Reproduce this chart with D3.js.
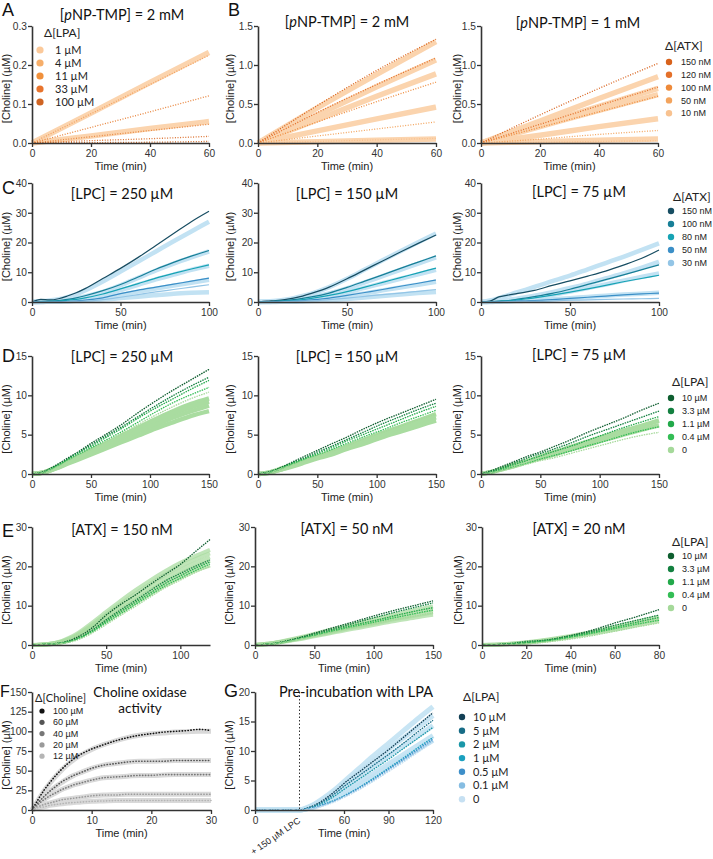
<!DOCTYPE html>
<html><head><meta charset="utf-8">
<script src="https://cdn.jsdelivr.net/npm/d3@7"></script>
<style>body{margin:0;background:#fff}svg{display:block}</style>
</head><body>
<svg id="c" width="713" height="859"></svg>
<script>
// ---------------- DATA ----------------
// Panel A (x: min, y: µM)
const tA = [0, 20, 40, 60];
const fitA = [[0,0.077,0.155,0.232],[0,0.018,0.037,0.055]];
const dataA = [[0,0.075,0.150,0.225],[0,0.040,0.080,0.121],[0,0.016,0.032,0.048],[0,0.006,0.011,0.017],[0,0.001,0.002,0.004]];
const legendA = ["1 µM","4 µM","11 µM","33  µM","100 µM"];
// Panel B
const tB = [0, 20, 40, 60];
const fitB1 = [[0,0.45,0.88,1.30],[0,0.36,0.72,1.065],[0,0.30,0.60,0.886],[0,0.155,0.31,0.46],[0,0.017,0.034,0.05]];
const dataB1 = [[0,0.48,0.93,1.33],[0,0.39,0.75,1.09],[0,0.27,0.53,0.78],[0,0.09,0.18,0.27],[0,0.02,0.04,0.06]];
const fitB2 = [[0,0.28,0.57,0.85],[0,0.24,0.47,0.70],[0,0.21,0.42,0.62],[0,0.10,0.21,0.31],[0,0.017,0.034,0.05]];
const dataB2 = [[0,0.36,0.70,1.02],[0,0.24,0.48,0.716],[0,0.20,0.40,0.60],[0,0.05,0.11,0.16],[0,0.01,0.02,0.03]];
const legendATX1 = ["150 nM","120 nM","100 nM","50 nM","10 nM"];
// Panel C
const tC = [0,5,10,15,20,25,30,40,50,60,70,80,90,100];
const fitC1 = [[0,0.2,0.5,0.9,1.6,2.6,3.9,6.9,10.2,13.6,17.0,20.4,23.7,27.0],
               [0,0.1,0.3,0.5,0.9,1.3,1.9,3.4,5.6,8.1,10.6,12.9,15.0,17.0],
               [0,0.1,0.2,0.4,0.6,0.9,1.3,2.4,4.0,5.8,7.6,9.2,10.8,12.2],
               [0,0,0.1,0.2,0.3,0.5,0.7,1.4,2.4,3.5,4.5,5.5,6.5,7.5],
               [0,0,0.1,0.1,0.2,0.3,0.4,0.8,1.3,1.8,2.3,2.8,3.1,3.3]];
const dataC1 = [[0,0.9,0.7,1.1,2.0,3.1,4.5,7.9,11.3,15.0,19.0,23.0,27.0,30.5],
                [0,0.2,0.3,0.5,0.9,1.4,2.1,3.8,5.9,8.4,11.0,13.3,15.4,17.3],
                [0,0.1,0.2,0.3,0.6,0.9,1.4,2.7,4.4,6.2,8.0,9.6,11.1,12.5],
                [0,0,0,0.1,0.2,0.4,0.6,1.4,2.8,4.0,5.0,6.0,7.0,8.0],
                [0,0,0,0,0.1,0.2,0.3,0.8,1.6,2.5,3.4,4.2,5.0,5.8]];
const fitC2 = [[0,0.2,0.4,0.8,1.3,2.0,2.8,5.0,7.8,10.9,14.0,17.1,20.1,23.0],
               [0,0.1,0.2,0.4,0.7,1.1,1.6,2.9,4.6,6.6,8.7,10.8,12.9,15.0],
               [0,0.1,0.1,0.3,0.5,0.8,1.1,2.0,3.3,4.8,6.3,7.8,9.3,10.8],
               [0,0,0.1,0.2,0.3,0.4,0.6,1.2,2.0,2.9,3.9,4.9,5.8,6.8],
               [0,0,0,0.1,0.1,0.2,0.3,0.6,1.0,1.5,2.0,2.5,3.0,3.4]];
const dataC2 = [[0,0.3,0.5,0.8,1.3,2.0,2.9,5.0,7.8,10.8,13.8,16.8,19.7,22.5],
                [0,0.1,0.3,0.5,0.8,1.2,1.7,3.0,4.9,7.0,9.1,11.3,13.4,15.5],
                [0,0.1,0.2,0.3,0.5,0.8,1.2,2.2,3.5,5.0,6.6,8.2,9.8,11.4],
                [0,0,0.1,0.2,0.3,0.5,0.7,1.3,2.2,3.2,4.2,5.3,6.3,7.4],
                [0,0,0,0.1,0.2,0.3,0.4,0.8,1.3,1.9,2.5,3.0,3.6,4.2]];
const fitC3 = [[0,0.5,1.3,2.2,3.2,4.1,5.1,7.0,8.9,11.0,13.1,15.2,17.4,19.7],
               [0,0.1,0.4,0.7,1.1,1.6,2.1,3.3,4.7,6.2,7.9,9.6,11.5,13.5],
               [0,0.1,0.3,0.5,0.8,1.1,1.5,2.4,3.5,4.7,5.9,7.2,8.4,9.6],
               [0,0,0.1,0.2,0.3,0.4,0.5,0.9,1.3,1.7,2.1,2.5,2.8,3.1]];
const dataC3 = [[0,0.3,1.7,2.3,2.8,3.3,3.9,5.6,7.1,8.7,10.4,12.4,14.6,17.5],
                [0,0.1,0.3,0.5,0.9,1.3,1.8,2.9,4.3,5.9,7.5,9.1,10.8,12.5],
                [0,0.1,0.2,0.4,0.7,1.0,1.4,2.3,3.3,4.4,5.6,6.8,7.9,9.0],
                [0,0,0.1,0.2,0.3,0.4,0.5,0.8,1.2,1.6,2.0,2.4,2.7,3.0],
                [0,0,0,0.1,0.1,0.2,0.2,0.4,0.6,0.7,0.9,1.0,1.1,1.2]];
const legendATX2 = ["150 nM","100 nM","80 nM","50 nM","30 nM"];
// Panel D
const tD = [0,10,20,30,40,50,60,75,90,105,120,135,150];
const fitD1 = [[0,0.2,0.8,1.5,2.3,3.0,3.7,4.8,5.9,7.0,8.0,8.9,9.6],
               [0,0.2,0.8,1.5,2.2,2.9,3.6,4.6,5.7,6.7,7.7,8.5,9.2],
               [0,0.2,0.7,1.4,2.1,2.7,3.4,4.4,5.4,6.3,7.2,8.0,8.7],
               [0,0.2,0.7,1.3,1.9,2.5,3.1,4.0,4.9,5.8,6.6,7.4,8.0]];
const dataD1 = [[0,0.3,1.1,2.0,2.9,3.9,4.8,6.2,7.8,9.3,10.7,12.0,13.3],
                [0,0.3,1.0,1.9,2.8,3.7,4.6,5.9,7.3,8.7,10.0,11.2,12.3],
                [0,0.2,0.9,1.8,2.7,3.5,4.4,5.7,7.1,8.4,9.6,10.8,11.9],
                [0,0.2,0.9,1.7,2.5,3.3,4.1,5.3,6.6,7.9,9.1,10.1,11.0],
                [0,0.2,0.8,1.6,2.4,3.1,3.9,5.1,6.3,7.5,8.6,9.6,10.4]];
const fitD2 = [[0,0.2,0.7,1.2,1.7,2.2,2.7,3.5,4.4,5.2,6.0,6.8,7.6],
               [0,0.2,0.6,1.1,1.6,2.1,2.6,3.4,4.2,4.9,5.7,6.5,7.2],
               [0,0.2,0.6,1.0,1.5,2.0,2.4,3.2,3.9,4.7,5.4,6.1,6.8]];
const dataD2 = [[0,0.3,0.9,1.6,2.3,3.0,3.7,4.7,5.8,6.8,7.7,8.6,9.5],
                [0,0.3,0.8,1.5,2.1,2.8,3.4,4.4,5.4,6.4,7.3,8.2,9.0],
                [0,0.2,0.8,1.4,2.0,2.6,3.2,4.2,5.1,6.0,6.9,7.8,8.6],
                [0,0.2,0.7,1.3,1.9,2.4,3.0,3.9,4.8,5.6,6.5,7.3,8.1],
                [0,0.2,0.7,1.2,1.8,2.3,2.8,3.6,4.5,5.3,6.1,6.9,7.6]];
const fitD3 = [[0,0.3,0.8,1.3,1.7,2.2,2.7,3.4,4.1,4.8,5.5,6.1,6.8],
               [0,0.3,0.7,1.1,1.6,2.0,2.4,3.1,3.7,4.4,5.0,5.6,6.2]];
const dataD3 = [[0,0.5,1.1,1.7,2.3,2.8,3.4,4.3,5.3,6.2,7.1,8.1,9.0],
                [0,0.4,0.9,1.5,2.1,2.6,3.1,3.9,4.8,5.6,6.4,7.2,8.0],
                [0,0.3,0.8,1.3,1.8,2.3,2.8,3.5,4.3,5.1,5.9,6.6,7.3],
                [0,0.2,0.6,1.0,1.4,1.9,2.3,2.9,3.6,4.2,4.9,5.5,6.0],
                [0,0.2,0.5,0.9,1.3,1.7,2.0,2.6,3.2,3.8,4.4,4.9,5.3]];
const legendLPA = ["10 µM","3.3 µM","1.1 µM","0.4 µM","0"];
// Panel E
const tE1 = [0,10,20,25,30,40,50,60,70,80,90,100,110,120];
const fitE1 = [[0,0.2,1.0,1.8,2.8,5.5,8.4,11.3,14.0,16.5,18.8,20.9,22.6,24.2],
               [0,0.2,0.9,1.6,2.5,5.0,7.8,10.5,13.1,15.6,17.9,20.0,21.8,23.3],
               [0,0.2,0.8,1.4,2.2,4.6,7.2,9.8,12.3,14.7,17.0,19.0,20.8,22.3],
               [0,0.1,0.7,1.2,2.0,4.2,6.6,9.1,11.5,13.9,16.1,18.1,19.9,21.4],
               [0,0.1,0.6,1.1,1.8,3.8,6.1,8.4,10.7,13.0,15.2,17.2,18.9,20.2]];
const dataE1 = [[0,0.2,0.6,1.1,1.9,4.2,7.6,10.4,12.8,15.5,18.0,20.5,23.7,26.8],
                [0,0.2,0.5,0.9,1.5,3.6,6.4,9.0,11.4,13.9,16.3,18.2,20.0,21.6],
                [0,0.2,0.5,0.9,1.5,3.4,6.0,8.5,10.9,13.3,15.7,17.6,19.5,21.1],
                [0,0.2,0.5,0.8,1.4,3.2,5.6,8.0,10.4,12.8,15.1,17.0,18.9,20.6],
                [0,0.2,0.4,0.7,1.2,2.9,5.2,7.6,9.9,12.3,14.6,16.5,18.4,20.0]];
const tE2 = [0,10,20,30,40,50,60,75,90,105,120,135,150];
const fitE2 = [[0,0.3,0.8,1.4,2.1,2.8,3.6,4.7,5.8,6.9,7.9,8.9,9.8],
               [0,0.3,0.7,1.3,1.9,2.6,3.3,4.3,5.3,6.3,7.3,8.2,9.0],
               [0,0.2,0.7,1.2,1.8,2.4,3.0,4.0,4.9,5.8,6.7,7.5,8.3],
               [0,0.2,0.6,1.1,1.6,2.2,2.8,3.7,4.5,5.4,6.2,7.0,7.7]];
const dataE2 = [[0,0.2,0.6,1.3,2.1,3.0,3.9,5.2,6.5,7.8,9.0,10.1,11.2],
                [0,0.2,0.6,1.2,2.0,2.8,3.6,4.8,6.1,7.3,8.5,9.6,10.7],
                [0,0.2,0.5,1.1,1.8,2.5,3.3,4.4,5.5,6.5,7.6,8.6,9.5],
                [0,0.2,0.5,1.0,1.7,2.4,3.1,4.1,5.1,6.1,7.1,8.0,8.9],
                [0,0.2,0.5,1.0,1.6,2.2,2.9,3.9,4.8,5.7,6.6,7.4,8.2]];
const tE3 = [0,10,20,30,40,50,60,70,80];
const fitE3 = [[0,0.2,0.7,1.4,2.3,3.4,4.6,5.9,7.2],
               [0,0.2,0.6,1.3,2.1,3.1,4.2,5.4,6.6],
               [0,0.2,0.6,1.2,2.0,2.9,3.9,5.0,6.1]];
const dataE3 = [[0,0.2,0.6,1.3,2.4,3.8,5.6,7.2,9.0],
                [0,0.2,0.9,1.3,2.3,3.5,5.0,6.3,7.6],
                [0,0.2,0.6,1.2,2.1,3.2,4.5,5.8,7.0],
                [0,0.1,0.5,1.1,2.0,3.0,4.2,5.3,6.3],
                [0,0.1,0.3,0.8,1.5,2.4,3.5,4.6,5.6]];
// Panel F
const tF = [0,1,2,3,4,5,6,7,8,10,12,14,16,18,20,22,24,26,28,30];
const fitF = [[0,12,24,34,43,51,58,64,69,77,83,88,92,95,97,98,99,99.5,100,100],
              [0,9,17,24,30,35,40,44,47,53,57,59,61,62,62,62.5,63,63,63,63],
              [0,7,13,18,22,26,29,32,34,38,41,42,43,44,44,44.5,45,45,45,45],
              [0,4,7,9,11,13,14,15,16,18,19,19.5,20,20,20,20,20,20,20,20],
              [0,3,4,6,7,8,9,9.5,10,11,11.5,12,12,12,12,12,12,12,12,12]];
const dataF = [[0,13,25,35,44,52,59,65,70,77.5,83,88,92,95,97,99,100,101,102.5,101],
               [0,9,17,24,30,36,40,44,47,53,57,59,61,62,62,62,63,63,63,63],
               [0,7,13,18,22,26,29,32,34,38,41,42,43,44,44,45,45,45,45,45],
               [0,4,7,9,11,13,14,15,16,18,19,19,20,20,20,20,20,20,20,20],
               [0,3,4,6,7,8,9,9.5,10,11,11.5,12,12,12,12,12,12,12,12,12]];
const legendF = ["100 µM","60 µM","40 µM","20 µM","12 µM"];
// Panel G
const tG = [0,30,35,40,45,50,55,60,70,80,90,100,110,120];
const fitG = [[0,0,0.4,1.0,1.8,2.7,3.7,4.8,7.0,9.2,11.3,13.4,15.5,17.5],
              [0,0,0.3,0.9,1.6,2.4,3.3,4.3,6.3,8.3,10.3,12.2,14.1,16.0],
              [0,0,0.3,0.8,1.4,2.1,2.9,3.8,5.6,7.4,9.2,10.9,12.6,14.3],
              [0,0,0.2,0.6,1.1,1.7,2.3,3.0,4.6,6.2,7.8,9.4,11.0,12.6],
              [0,0,0.2,0.5,1.0,1.5,2.1,2.7,4.2,5.7,7.3,8.8,10.3,11.8]];
const dataG = [[0,0,0.3,0.8,1.5,2.4,3.4,4.5,6.4,8.3,10.2,12.3,14.4,16.5],
               [0,0,0.3,0.7,1.3,2.1,3.0,4.0,5.8,7.6,9.4,11.3,13.3,15.2],
               [0,0,0.2,0.6,1.1,1.8,2.6,3.5,5.2,6.9,8.6,10.4,12.2,14.0],
               [0,0,0.2,0.4,0.8,1.3,1.8,2.4,3.8,5.4,7.1,8.8,10.6,12.3],
               [0,0,0.2,0.4,0.8,1.2,1.7,2.3,3.7,5.2,6.9,8.6,10.3,12.0],
               [0,0,0.1,0.3,0.7,1.1,1.6,2.2,3.5,5.0,6.6,8.3,10.0,11.7],
               [0,0,0.1,0.3,0.6,1.0,1.5,2.1,3.4,4.9,6.5,8.1,9.8,11.5]];
const legendG = ["10 µM","5 µM","2 µM","1 µM","0.5 µM","0.1 µM","0"];

// ---------------- COLOURS ----------------
const orangeLeg = ["#fbc99a","#f6ae6a","#f0903b","#e8742d","#cf6423"];
const orangeATX = ["#d8621c","#e4702a","#ee8a3a","#f3a45d","#f8c290"];
const orangeDataA = ["#f2a262","#e8843c","#e88a45","#dc7230","#d06a2a"];
const orangeFit = "#fbd4ae";
const blueC = ["#174d62","#177f97","#16a3b4","#3b8fc7","#93c5e6"];
const blueFit = "#c2e2f3";
const greens = ["#0e5e2f","#138040","#22a94a","#33bd55","#a5d99a"];
const greenFit = "#a9dca0";
const greysF = ["#111111","#555555","#777777","#9a9a9a","#b5b5b5"];
const greyFit = "#d9d9d9";
const blueG = ["#123f55","#176c86","#1a97a8","#1ba0bf","#3e8fc9","#86bde2","#c6e0f2"];

// ---------------- DRAW ----------------
const svg = d3.select('#c');
const TICKF = "'Liberation Sans', Arial, sans-serif";
const TITLEF = "Lato, 'Open Sans', sans-serif";

function drawPanel(p){
  const g = svg.append('g');
  const x = d3.scaleLinear().domain(p.xd).range([p.x0, p.x1]);
  const y = d3.scaleLinear().domain(p.yd).range([p.y1, p.y0]);
  const mk = t => d3.line().x((d,i)=>x(t[i])).y(d=>y(d)).curve(d3.curveMonotoneX);
  (p.fits||[]).forEach((v,i)=>{
    g.append('path').attr('d', mk(p.t)(v)).attr('fill','none')
      .attr('stroke', p.fitColor)
      .attr('stroke-width', p.fitW||5).attr('stroke-opacity', p.fitO||1);
  });
  (p.data||[]).forEach((v,i)=>{
    g.append('path').attr('d', mk(p.t)(v)).attr('fill','none')
      .attr('stroke', p.dataColor[i]).attr('stroke-width', p.dataW||1.2)
      .attr('stroke-dasharray', p.dash||null).attr('stroke-linecap', p.cap||'butt');
  });
  if (p.vline!=null){
    g.append('line').attr('x1',x(p.vline)).attr('x2',x(p.vline)).attr('y1',p.y0).attr('y2',p.y1)
      .attr('stroke','#333').attr('stroke-width',1).attr('stroke-dasharray','1.5,2');
  }
  const xa = g.append('g').attr('transform',`translate(0,${p.y1})`)
    .call(d3.axisBottom(x).tickValues(p.xt).tickSize(4).tickSizeOuter(0).tickFormat(d3.format('d')));
  const ya = g.append('g').attr('transform',`translate(${p.x0},0)`)
    .call(d3.axisLeft(y).tickValues(p.yt).tickSize(4).tickSizeOuter(0).tickFormat(d3.format(p.yf||'d')));
  [xa,ya].forEach(a=>{
    a.select('.domain').attr('stroke','#333').attr('stroke-width',1.6);
    a.selectAll('.tick line').attr('stroke','#333').attr('stroke-width',1.3);
    a.selectAll('.tick text').attr('font-family',TICKF).attr('font-size',10.2).attr('fill','#333');
  });
  ya.selectAll('.tick text').attr('x',-5);
  g.append('text').attr('x',(p.x0+p.x1)/2).attr('y',p.y1+27).attr('text-anchor','middle')
    .attr('font-family',TICKF).attr('font-size',11).attr('fill','#222').text('Time (min)');
  g.append('text').attr('transform',`translate(${p.ylx},${(p.y0+p.y1)/2+4}) rotate(-90)`)
    .attr('text-anchor','middle').attr('font-family',TICKF).attr('font-size',11).attr('fill','#222')
    .text('[Choline] (µM)');
  (p.title||[]).forEach((tl,i)=>{
    const t = g.append('text').attr('x',p.tx).attr('y',p.ty+i*16).attr('text-anchor','middle')
      .attr('font-family',TITLEF).attr('font-size',p.tfs||14.5).attr('fill','#111');
    if (tl.indexOf('pNP')>=0){
      t.append('tspan').text('[');
      t.append('tspan').attr('font-style','italic').text('p');
      t.append('tspan').text(tl.slice(2));
    } else t.text(tl);
  });
  if (p.letter){
    svg.append('text').attr('x',p.lx).attr('y',p.ly).attr('font-family',TICKF)
      .attr('font-size',p.lfs||18).attr('fill','#111').text(p.letter);
  }
}

function drawLegend(L){
  const g = svg.append('g');
  g.append('text').attr('x',L.tx).attr('y',L.ty).attr('dy','0.35em').attr('font-family',TITLEF)
    .attr('font-size',L.tfs||12).attr('fill','#222').text(L.title);
  L.items.forEach((s,i)=>{
    const yy = L.y0 + i*L.dy;
    g.append('circle').attr('cx',L.dx).attr('cy',yy).attr('r',L.r||3.2).attr('fill',L.colors[i]);
    g.append('text').attr('x',L.txx).attr('y',yy).attr('dy','0.35em').attr('font-family',L.font||TICKF)
      .attr('font-size',L.fs||9).attr('fill','#222').text(s);
  });
}

// Row A/B
drawPanel({x0:32,x1:209,y0:26,y1:143,xd:[0,60],yd:[0,0.3],xt:[0,20,40,60],yt:[0,0.1,0.2,0.3],yf:'.1f',
  t:tA,fits:fitA,fitColor:orangeFit,fitW:5.5,data:dataA,dataColor:orangeDataA,dataW:1.3,dash:'1,1.6',
  ylx:10,title:['[pNP-TMP] = 2 mM'],tx:122,ty:20,letter:'A',lx:2,ly:16});
drawPanel({x0:258,x1:436,y0:26,y1:143,xd:[0,60],yd:[0,1.5],xt:[0,20,40,60],yt:[0,0.5,1.0,1.5],yf:'.1f',
  t:tB,fits:fitB1,fitColor:orangeFit,fitW:5.5,data:dataB1,dataColor:orangeATX,dataW:1.3,dash:'1,1.6',
  ylx:234,title:['[pNP-TMP] = 2 mM'],tx:347,ty:27,letter:'B',lx:228,ly:16});
drawPanel({x0:481,x1:658,y0:26,y1:143,xd:[0,60],yd:[0,1.5],xt:[0,20,40,60],yt:[0,0.5,1.0,1.5],yf:'.1f',
  t:tB,fits:fitB2,fitColor:orangeFit,fitW:5.5,data:dataB2,dataColor:orangeATX,dataW:1.3,dash:'1,1.6',
  ylx:461,title:['[pNP-TMP] = 1 mM'],tx:578,ty:28});
drawLegend({title:'Δ[LPA]',tx:44,ty:33,items:legendA,colors:orangeLeg,y0:50,dy:13,dx:40,txx:55,fs:11,font:TITLEF,r:3.6});
drawLegend({title:'Δ[ATX]',tx:665,ty:46,items:legendATX1,colors:orangeATX,y0:62,dy:12.8,dx:669,txx:681});

// Row C
drawPanel({x0:32,x1:209,y0:183,y1:302,xd:[0,100],yd:[0,40],xt:[0,50,100],yt:[0,10,20,30,40],
  t:tC,fits:fitC1,fitColor:blueFit,fitW:4.5,data:dataC1,dataColor:blueC,dataW:1.2,
  ylx:10,title:['[LPC] = 250 µM'],tx:122,ty:199,letter:'C',lx:2,ly:194});
drawPanel({x0:258,x1:436,y0:183,y1:302,xd:[0,100],yd:[0,40],xt:[0,50,100],yt:[0,10,20,30,40],
  t:tC,fits:fitC2,fitColor:blueFit,fitW:4.5,data:dataC2,dataColor:blueC,dataW:1.2,
  ylx:234,title:['[LPC] = 150 µM'],tx:347,ty:199});
drawPanel({x0:481,x1:659,y0:183,y1:302,xd:[0,100],yd:[0,40],xt:[0,50,100],yt:[0,10,20,30,40],
  t:tC,fits:fitC3,fitColor:blueFit,fitW:4.5,data:dataC3,dataColor:blueC,dataW:1.2,
  ylx:461,title:['[LPC] = 75 µM'],tx:579,ty:197});
drawLegend({title:'Δ[ATX]',tx:673,ty:197,items:legendATX2,colors:blueC,y0:211,dy:13,dx:671,txx:682});

// Row D
drawPanel({x0:32,x1:209,y0:356,y1:474,xd:[0,150],yd:[0,15],xt:[0,50,100,150],yt:[0,5,10,15],
  t:tD,fits:fitD1,fitColor:greenFit,fitW:4.5,data:dataD1,dataColor:greens,dataW:1.3,dash:'1.5,1',
  ylx:10,title:['[LPC] = 250 µM'],tx:122,ty:362,letter:'D',lx:2,ly:362});
drawPanel({x0:258,x1:436,y0:356,y1:474,xd:[0,150],yd:[0,15],xt:[0,50,100,150],yt:[0,5,10,15],
  t:tD,fits:fitD2,fitColor:greenFit,fitW:4.5,data:dataD2,dataColor:greens,dataW:1.3,dash:'1.5,1',
  ylx:234,title:['[LPC] = 150 µM'],tx:347,ty:362});
drawPanel({x0:481,x1:659,y0:356,y1:474,xd:[0,150],yd:[0,15],xt:[0,50,100,150],yt:[0,5,10,15],
  t:tD,fits:fitD3,fitColor:greenFit,fitW:4.5,data:dataD3,dataColor:greens,dataW:1.3,dash:'1.5,1',
  ylx:461,title:['[LPC] = 75 µM'],tx:579,ty:360});
drawLegend({title:'Δ[LPA]',tx:672,ty:382,items:legendLPA,colors:greens,y0:398,dy:13,dx:671,txx:682});

// Row E
drawPanel({x0:32,x1:210,y0:527,y1:645,xd:[0,120],yd:[0,30],xt:[0,50,100],yt:[0,10,20,30],
  t:tE1,fits:fitE1,fitColor:greenFit,fitW:4,fitO:0.75,data:dataE1,dataColor:greens,dataW:1.3,dash:'1.5,1',
  ylx:10,title:['[ATX] = 150 nM'],tx:122,ty:535,letter:'E',lx:2,ly:537});
drawPanel({x0:255,x1:433,y0:527,y1:645,xd:[0,150],yd:[0,30],xt:[0,50,100,150],yt:[0,10,20,30],
  t:tE2,fits:fitE2,fitColor:greenFit,fitW:4,fitO:0.75,data:dataE2,dataColor:greens,dataW:1.3,dash:'1.5,1',
  ylx:233,title:['[ATX] = 50 nM'],tx:347,ty:534});
drawPanel({x0:482,x1:659,y0:527,y1:645,xd:[0,80],yd:[0,30],xt:[0,20,40,60,80],yt:[0,10,20,30],
  t:tE3,fits:fitE3,fitColor:greenFit,fitW:4,fitO:0.75,data:dataE3,dataColor:greens,dataW:1.3,dash:'1.5,1',
  ylx:462,title:['[ATX] = 20 nM'],tx:579,ty:534});
drawLegend({title:'Δ[LPA]',tx:672,ty:542,items:legendLPA,colors:greens,y0:556,dy:13,dx:671,txx:682});

// Row F/G
drawPanel({x0:32,x1:211,y0:692,y1:810,xd:[0,30],yd:[0,150],xt:[0,10,20,30],yt:[0,25,50,75,100,125,150],
  t:tF,fits:fitF,fitColor:greyFit,fitW:5,data:dataF,dataColor:greysF,dataW:1.6,dash:'0.3,2.6',cap:'round',
  ylx:10,title:['Choline oxidase','activity'],tx:140,ty:697,tfs:13.5,letter:'F',lx:0,ly:697,lfs:16});
drawLegend({title:'Δ[Choline]',tx:35,ty:698,items:legendF,colors:greysF,y0:711,dy:11.3,dx:42,txx:53,tfs:11,r:2.6});
drawPanel({x0:255,x1:433,y0:692,y1:810,xd:[0,120],yd:[0,20],xt:[0,60,90,120],yt:[0,5,10,15,20],
  t:tG,fits:fitG,fitColor:blueFit,fitW:5,fitO:0.9,data:dataG,dataColor:blueG,dataW:1.3,dash:'1.6,1',vline:30,
  ylx:233,title:['Pre-incubation with LPA'],tx:356,ty:697,letter:'G',lx:224,ly:697});
svg.append('text').attr('transform','translate(301,822) rotate(-35)').attr('text-anchor','end')
  .attr('font-family',TICKF).attr('font-size',9).attr('fill','#222').text('+ 150 µM LPC');
drawLegend({title:'Δ[LPA]',tx:463,ty:697,items:legendG,colors:blueG,y0:717,dy:13.7,dx:462,txx:473,fs:11,font:TITLEF,r:3.2});
</script>
</body></html>
